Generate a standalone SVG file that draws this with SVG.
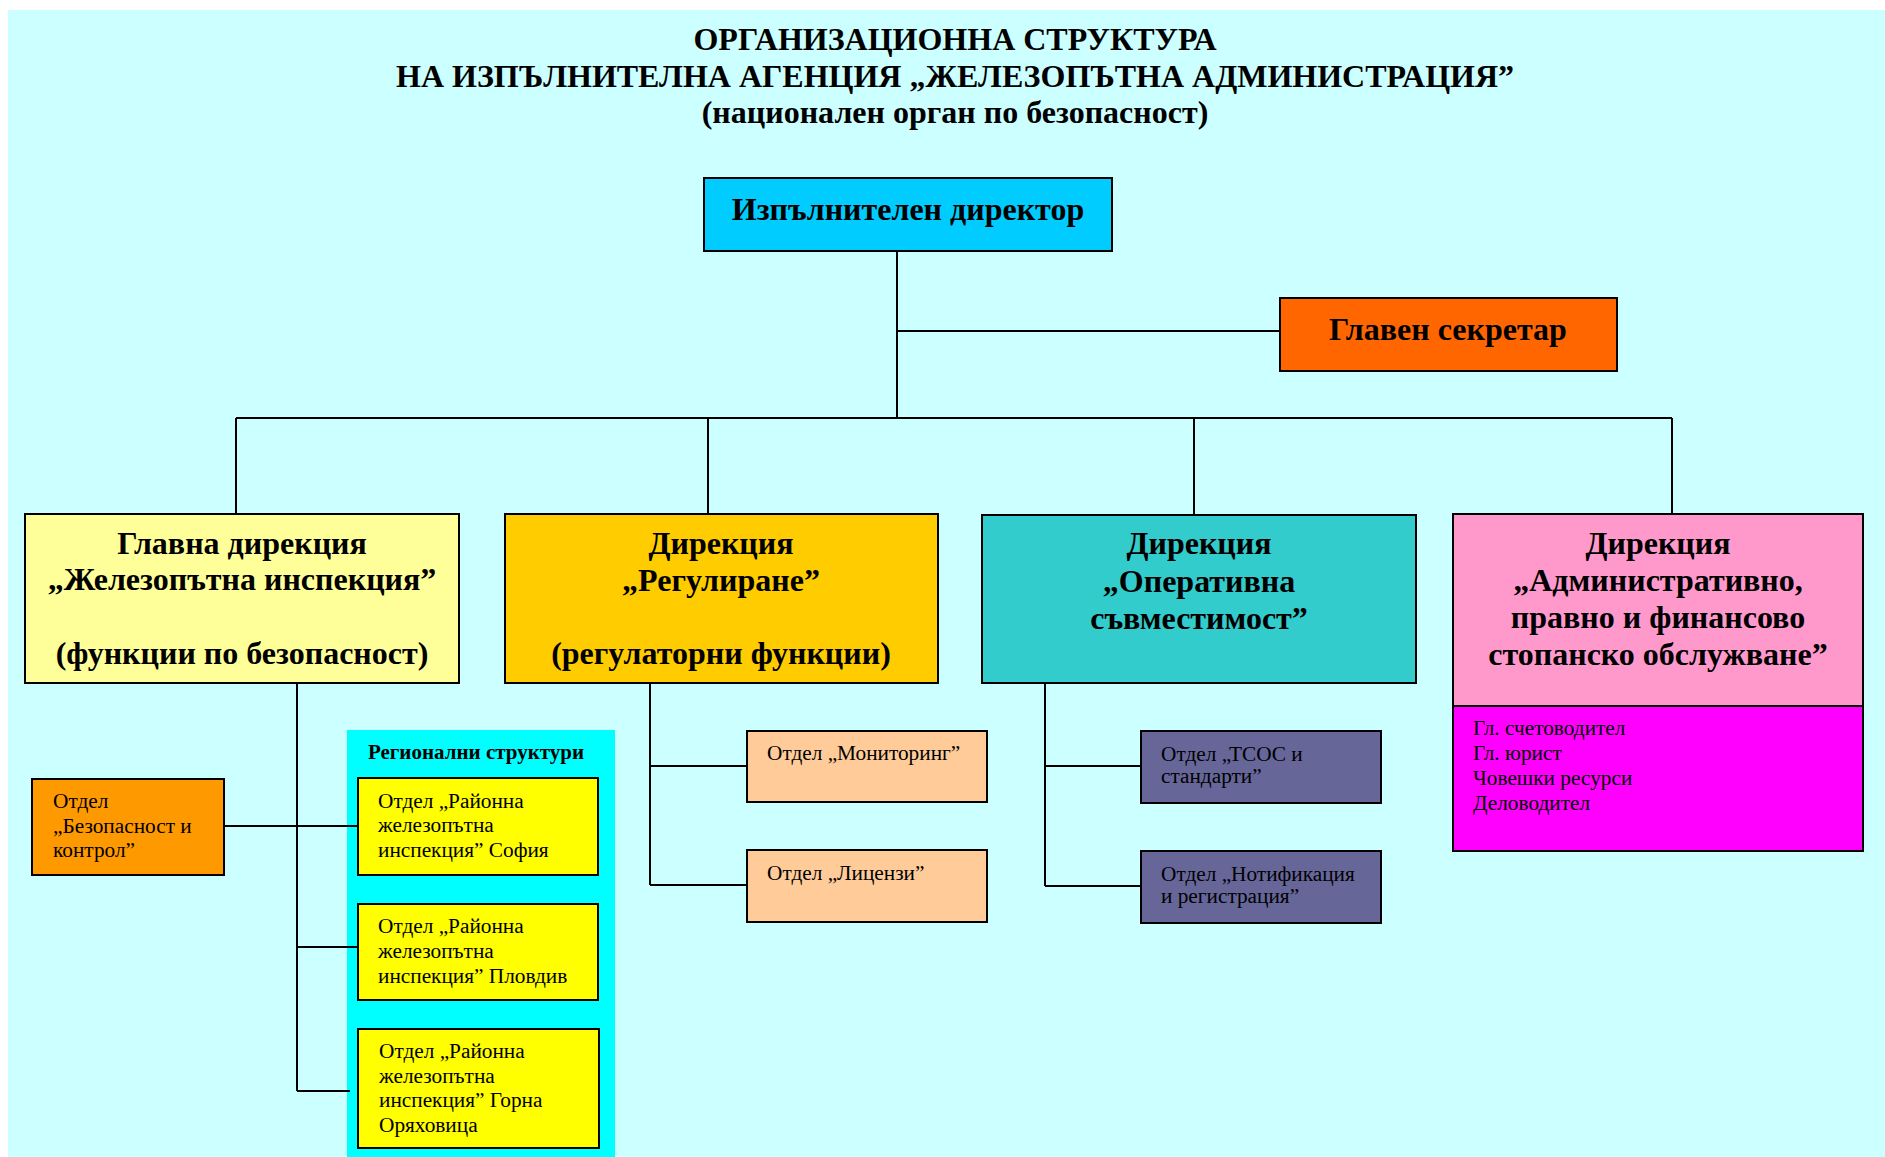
<svg xmlns="http://www.w3.org/2000/svg" width="1885" height="1157" viewBox="0 0 1885 1157">
<style>
.t{font-family:"Liberation Serif","Times New Roman",serif;fill:#000}
.b{font-weight:bold}
.h{font-size:32px}
.d{font-size:32px}
.s{font-size:21.3px}
.box{stroke:#000;stroke-width:2}
.ln{stroke:#000;stroke-width:2;fill:none}
</style>
<rect x="0" y="0" width="1885" height="1157" fill="#ffffff"/>
<rect x="8" y="10" width="1877" height="1147" fill="#ccffff"/>
<g id="title" class="t b h" text-anchor="middle">
<text x="955" y="50">ОРГАНИЗАЦИОННА СТРУКТУРА</text>
<text x="955" y="87">НА ИЗПЪЛНИТЕЛНА АГЕНЦИЯ „ЖЕЛЕЗОПЪТНА АДМИНИСТРАЦИЯ”</text>
<text x="955" y="123">(национален орган по безопасност)</text>
</g>
<g id="regional">
<rect x="347" y="730" width="268" height="427" fill="#00ffff"/>
<text class="t b" font-size="21" x="476" y="759" text-anchor="middle">Регионални структури</text>
</g>
<g id="connectors">
<path class="ln" d="M897 251V418M897 331H1280M236 418H1672M236 418V514M708 418V514M1194 418V514M1672 418V514"/>
<path class="ln" d="M297 683V1091M224 826H358M297 947H358M297 1091H350"/>
<path class="ln" d="M650 683V885M650 766H747M650 885H747"/>
<path class="ln" d="M1045 683V886M1045 766H1141M1045 886H1141"/>
</g>
<g id="director">
<rect class="box" x="704" y="178" width="408" height="73" fill="#00ccff"/>
<text class="t b h" x="908" y="220" text-anchor="middle">Изпълнителен директор</text>
</g>
<g id="secretary">
<rect class="box" x="1280" y="298" width="337" height="73" fill="#ff6600"/>
<text class="t b h" x="1448" y="340" text-anchor="middle">Главен секретар</text>
</g>
<g id="dir-inspection">
<rect class="box" x="25" y="514" width="434" height="169" fill="#ffff99"/>
<g class="t b d" text-anchor="middle">
<text x="242" y="554">Главна дирекция</text>
<text x="242" y="590">„Железопътна инспекция”</text>
<text x="242" y="664">(функции по безопасност)</text>
</g>
</g>
<g id="dir-regulation">
<rect class="box" x="505" y="514" width="433" height="169" fill="#ffcc00"/>
<g class="t b d" text-anchor="middle">
<text x="721" y="554">Дирекция</text>
<text x="721" y="591">„Регулиране”</text>
<text x="721" y="664">(регулаторни функции)</text>
</g>
</g>
<g id="dir-operational">
<rect class="box" x="982" y="515" width="434" height="168" fill="#33cccc"/>
<g class="t b d" text-anchor="middle">
<text x="1199" y="554">Дирекция</text>
<text x="1199" y="592">„Оперативна</text>
<text x="1199" y="629">съвместимост”</text>
</g>
</g>
<g id="dir-admin">
<rect class="box" x="1453" y="514" width="410" height="192" fill="#ff99cc"/>
<g class="t b d" text-anchor="middle">
<text x="1658" y="554">Дирекция</text>
<text x="1658" y="591">„Административно,</text>
<text x="1658" y="628">правно и финансово</text>
<text x="1658" y="665">стопанско обслужване”</text>
</g>
</g>
<g id="admin-staff">
<rect class="box" x="1453" y="706" width="410" height="145" fill="#ff00ff"/>
<g class="t s" font-size="21.8">
<text x="1473" y="735">Гл. счетоводител</text>
<text x="1473" y="760">Гл. юрист</text>
<text x="1473" y="785">Човешки ресурси</text>
<text x="1473" y="810">Деловодител</text>
</g>
</g>
<g id="dept-safety">
<rect class="box" x="32" y="779" width="192" height="96" fill="#ff9900"/>
<g class="t s">
<text x="53" y="808">Отдел</text>
<text x="53" y="833">„Безопасност и</text>
<text x="53" y="857">контрол”</text>
</g>
</g>
<g id="dept-sofia">
<rect class="box" x="358" y="778" width="240" height="97" fill="#ffff00"/>
<g class="t s">
<text x="378" y="808">Отдел „Районна</text>
<text x="378" y="832">железопътна</text>
<text x="378" y="857">инспекция” София</text>
</g>
</g>
<g id="dept-plovdiv">
<rect class="box" x="358" y="904" width="240" height="96" fill="#ffff00"/>
<g class="t s">
<text x="378" y="933">Отдел „Районна</text>
<text x="378" y="958">железопътна</text>
<text x="378" y="983">инспекция” Пловдив</text>
</g>
</g>
<g id="dept-gorna">
<rect class="box" x="358" y="1029" width="241" height="119" fill="#ffff00"/>
<g class="t s">
<text x="379" y="1058">Отдел „Районна</text>
<text x="379" y="1083">железопътна</text>
<text x="379" y="1107">инспекция” Горна</text>
<text x="379" y="1132">Оряховица</text>
</g>
</g>
<g id="dept-monitoring">
<rect class="box" x="747" y="731" width="240" height="71" fill="#ffcc99"/>
<text class="t s" x="767" y="760">Отдел „Мониторинг”</text>
</g>
<g id="dept-licenses">
<rect class="box" x="747" y="850" width="240" height="72" fill="#ffcc99"/>
<text class="t s" x="767" y="880">Отдел „Лицензи”</text>
</g>
<g id="dept-tsos">
<rect class="box" x="1141" y="731" width="240" height="72" fill="#666699"/>
<g class="t s">
<text x="1161" y="761">Отдел „ТСОС и</text>
<text x="1161" y="783">стандарти”</text>
</g>
</g>
<g id="dept-notification">
<rect class="box" x="1141" y="851" width="240" height="72" fill="#666699"/>
<g class="t s">
<text x="1161" y="881">Отдел „Нотификация</text>
<text x="1161" y="903">и регистрация”</text>
</g>
</g>
</svg>
